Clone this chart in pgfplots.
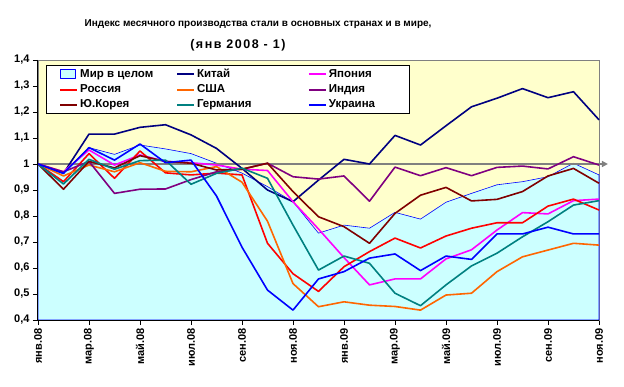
\documentclass[border=0pt]{standalone}
\usepackage{fontspec}
\setmainfont{Liberation Sans}
\usepackage{pgfplots}
\pgfplotsset{compat=1.18}
\usetikzlibrary{arrows.meta}
\definecolor{bgyellow}{HTML}{FFFFCC}
\definecolor{worldfill}{HTML}{CCFFFF}
\definecolor{cChina}{HTML}{000080}
\definecolor{cJapan}{HTML}{FF00FF}
\definecolor{cRussia}{HTML}{FF0000}
\definecolor{cUSA}{HTML}{FF6600}
\definecolor{cIndia}{HTML}{800080}
\definecolor{cKorea}{HTML}{800000}
\definecolor{cGermany}{HTML}{008080}
\definecolor{cUkraine}{HTML}{0000FF}
\definecolor{axgray}{HTML}{808080}
\begin{document}
\begin{tikzpicture}
\begin{axis}[
  scale only axis, width=561pt, height=260pt,
  xmin=0, xmax=22, ymin=0.4, ymax=1.4,
  clip=false,
  axis background/.style={fill=bgyellow},
  axis line style={axgray, line width=0.8pt},
  tick align=outside, xtick pos=left, ytick pos=left,
  major tick length=5pt,
  tick style={black, line width=0.8pt},
  xtick={0,2,...,22},
  xticklabels={янв.08,мар.08,май.08,июл.08,сен.08,ноя.08,янв.09,мар.09,май.09,июл.09,сен.09,ноя.09},
  xticklabel style={rotate=90, anchor=east, font=\bfseries\fontsize{11}{13}\selectfont},
  ytick={0.4,0.5,0.6,0.7,0.8,0.9,1.0,1.1,1.2,1.3,1.4},
  yticklabels={{0,4},{0,5},{0,6},{0,7},{0,8},{0,9},{1},{1,1},{1,2},{1,3},{1,4}},
  yticklabel style={font=\bfseries\fontsize{11}{13}\selectfont},
  legend columns=3,
  legend style={at={(axis description cs:0.0143,0.981)}, anchor=north west,
    draw=black, line width=0.8pt, fill=white,
    font=\bfseries\fontsize{11.5}{13}\selectfont,
    inner xsep=13pt, inner ysep=2pt, row sep=1.5pt},
  legend cell align=left,
  every axis plot/.append style={line width=1.6pt, line join=round,
    legend image code/.code={\draw[##1, line width=1.8pt] (0pt,0pt) -- (17pt,0pt);}},
]
% World area
\addplot[fill=worldfill, draw=cUkraine, line width=0.6pt,
  legend image code/.code={\draw[fill=worldfill, draw=cUkraine, line width=0.8pt] (0pt,-4.5pt) rectangle (15pt,4.5pt);}]
  coordinates {(0,1.0)(1,0.965)(2,1.063)(3,1.037)(4,1.073)(5,1.058)(6,1.04)(7,1.003)(8,0.965)(9,0.913)(10,0.855)(11,0.734)(12,0.765)(13,0.753)(14,0.814)(15,0.788)(16,0.853)(17,0.887)(18,0.92)(19,0.932)(20,0.951)(21,1.003)(22,0.958)} \closedcycle;
\addlegendentry{\makebox[94pt][l]{Мир в целом}}
% reference line at 1
\addplot[forget plot, axgray, line width=2pt, -{Triangle[length=6pt,width=6pt]}] coordinates {(0,1) (22.35,1)};
\addplot[cChina] coordinates {(0,1.0)(1,0.964)(2,1.115)(3,1.115)(4,1.141)(5,1.151)(6,1.112)(7,1.06)(8,0.983)(9,0.90)(10,0.855)(11,0.938)(12,1.018)(13,1.0)(14,1.11)(15,1.073)(16,1.147)(17,1.22)(18,1.253)(19,1.29)(20,1.255)(21,1.278)(22,1.17)};
\addlegendentry{\makebox[109pt][l]{Китай}}
\addplot[cJapan] coordinates {(0,1.0)(1,0.97)(2,1.054)(3,0.996)(4,1.035)(5,1.01)(6,1.005)(7,0.996)(8,0.98)(9,0.975)(10,0.855)(11,0.75)(12,0.64)(13,0.535)(14,0.558)(15,0.558)(16,0.635)(17,0.67)(18,0.746)(19,0.813)(20,0.808)(21,0.859)(22,0.865)};
\addlegendentry{\makebox[66pt][l]{Япония}}
\addplot[cRussia] coordinates {(0,1.0)(1,0.932)(2,1.04)(3,0.945)(4,1.05)(5,0.966)(6,0.958)(7,0.965)(8,0.958)(9,0.695)(10,0.578)(11,0.51)(12,0.605)(13,0.663)(14,0.715)(15,0.677)(16,0.723)(17,0.753)(18,0.774)(19,0.774)(20,0.838)(21,0.865)(22,0.823)};
\addlegendentry{\makebox[94pt][l]{Россия}}
\addplot[cUSA] coordinates {(0,1.0)(1,0.954)(2,0.996)(3,0.97)(4,1.005)(5,0.972)(6,0.97)(7,0.99)(8,0.93)(9,0.78)(10,0.54)(11,0.451)(12,0.47)(13,0.457)(14,0.452)(15,0.438)(16,0.496)(17,0.503)(18,0.586)(19,0.643)(20,0.669)(21,0.695)(22,0.688)};
\addlegendentry{\makebox[109pt][l]{США}}
\addplot[cIndia] coordinates {(0,1.0)(1,0.97)(2,1.01)(3,0.887)(4,0.903)(5,0.904)(6,0.94)(7,0.97)(8,0.98)(9,1.003)(10,0.951)(11,0.942)(12,0.954)(13,0.857)(14,0.988)(15,0.955)(16,0.986)(17,0.955)(18,0.987)(19,0.992)(20,0.981)(21,1.028)(22,0.996)};
\addlegendentry{\makebox[66pt][l]{Индия}}
\addplot[cKorea] coordinates {(0,1.0)(1,0.903)(2,1.01)(3,0.985)(4,1.032)(5,1.01)(6,1.003)(7,0.977)(8,0.98)(9,1.003)(10,0.894)(11,0.797)(12,0.759)(13,0.695)(14,0.81)(15,0.88)(16,0.91)(17,0.858)(18,0.864)(19,0.894)(20,0.954)(21,0.983)(22,0.926)};
\addlegendentry{\makebox[94pt][l]{Ю.Корея}}
\addplot[cGermany] coordinates {(0,1.0)(1,0.923)(2,1.018)(3,0.98)(4,1.013)(5,1.015)(6,0.922)(7,0.964)(8,0.984)(9,0.945)(10,0.765)(11,0.592)(12,0.646)(13,0.618)(14,0.503)(15,0.455)(16,0.535)(17,0.608)(18,0.657)(19,0.72)(20,0.778)(21,0.842)(22,0.859)};
\addlegendentry{\makebox[109pt][l]{Германия}}
\addplot[cUkraine] coordinates {(0,1.0)(1,0.964)(2,1.063)(3,1.015)(4,1.077)(5,1.005)(6,1.015)(7,0.877)(8,0.68)(9,0.515)(10,0.438)(11,0.558)(12,0.586)(13,0.638)(14,0.654)(15,0.59)(16,0.646)(17,0.633)(18,0.731)(19,0.731)(20,0.757)(21,0.731)(22,0.731)};
\addlegendentry{\makebox[66pt][l]{Украина}}
% black left and bottom axis lines
\draw[black, line width=1pt] (rel axis cs:0,1) -- (rel axis cs:0,0) -- (rel axis cs:1,0);
% title
\node[font=\bfseries\fontsize{10}{12}\selectfont, anchor=center] at (axis cs:8.63,1.538) {Индекс месячного производства стали в основных странах и в мире,};
\node[font=\bfseries\fontsize{12.5}{14}\selectfont\addfontfeatures{LetterSpace=12}, anchor=center] at (axis cs:7.84,1.458) {(янв 2008 - 1)};
\end{axis}
\pgfresetboundingbox
\path ([shift={(-38pt,-66pt)}]current axis.south west) rectangle ([shift={(25pt,60pt)}]current axis.north east);
\end{tikzpicture}
\end{document}
